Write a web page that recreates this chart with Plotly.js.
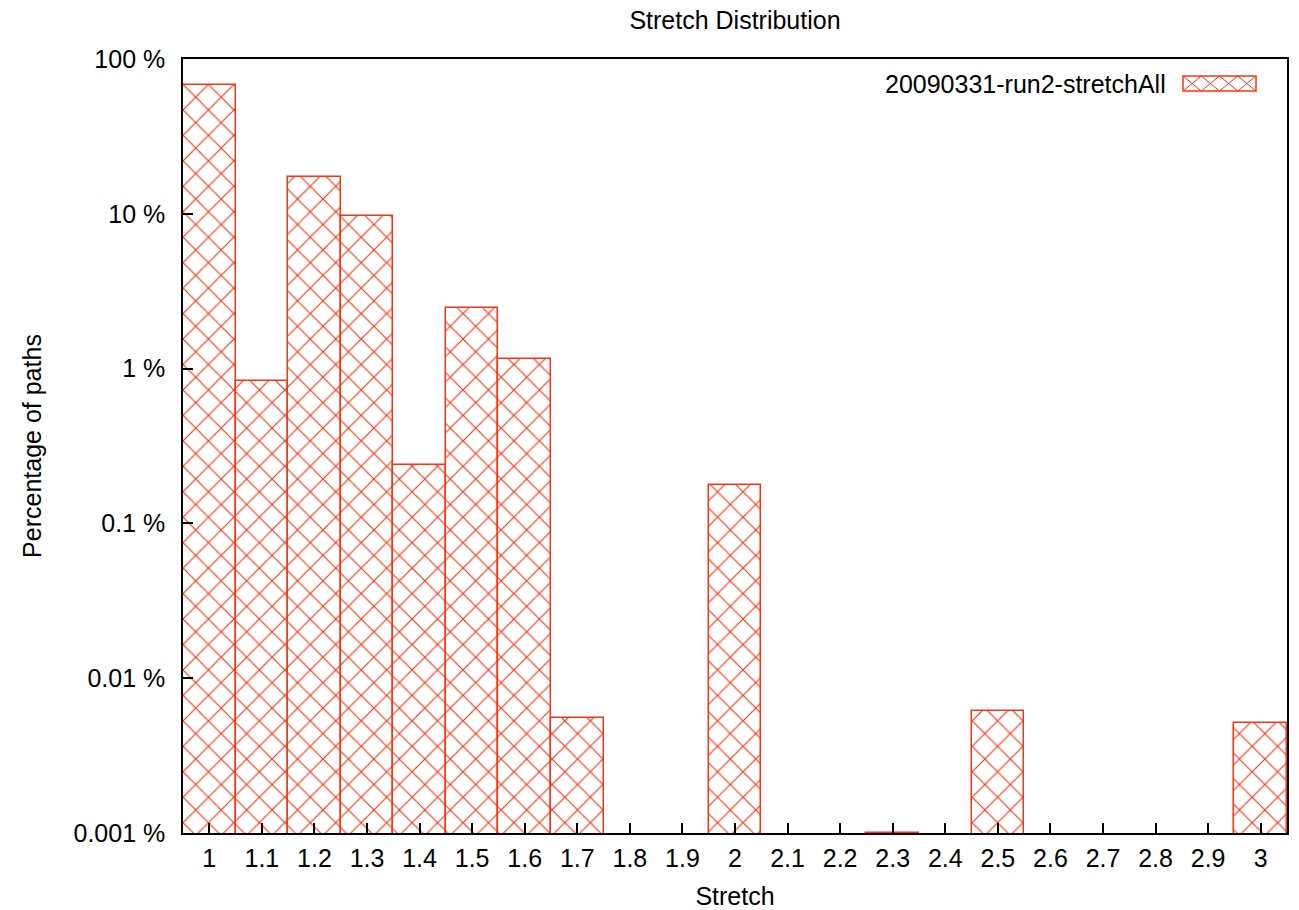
<!DOCTYPE html>
<html>
<head>
<meta charset="utf-8">
<script src="https://cdn.plot.ly/plotly-3.0.1.min.js"></script>
<style>
  html, body { margin: 0; padding: 0; background: #fff; }
  #chart { width: 1299px; height: 910px; }
</style>
</head>
<body>
<div id="chart"></div>
<script>
// ---- data (percent of paths per stretch bin) ----
const categories = ['1','1.1','1.2','1.3','1.4','1.5','1.6','1.7','1.8','1.9','2',
                    '2.1','2.2','2.3','2.4','2.5','2.6','2.7','2.8','2.9','3'];
const percentages = [68, 0.83, 17.3, 9.7, 0.238, 2.46, 1.15, 0.0055, null, null, 0.177,
                     null, null, 0.001003, null, 0.0061, null, null, null, null, 0.0051];
const seriesName = '20090331-run2-stretchAll';
const yTickVals = [0.001, 0.01, 0.1, 1, 10, 100];
const yTickText = ['0.001 %', '0.01 %', '0.1 %', '1 %', '10 %', '100 %'];

const RED = '#ff3311';
const FONT = '"Liberation Sans", Arial, Helvetica, sans-serif';
const W = 1299, H = 910;
const M = {l: 183, r: 12, t: 59, b: 77};
const PW = W - M.l - M.r, PH = H - M.t - M.b;
const px = x => (x - M.l) / PW;
const py = y => (M.t + PH - y) / PH;

const trace = {
  type: 'bar',
  x: categories,
  y: percentages,
  name: seriesName,
  showlegend: false,
  marker: {
    color: 'white',
    line: {color: RED, width: 1.5},
    pattern: {shape: 'x', size: 18, solidity: 0.12, fgcolor: RED, bgcolor: 'white', fillmode: 'replace'}
  },
  hoverinfo: 'x+y'
};

// legend key (text on the left, hatched box on the right, gnuplot style)
const keyX0 = 1183, keyX1 = 1256, keyY0 = 76, keyY1 = 91;
const nX = 4;
let hatch = '';
const tw = (keyX1 - keyX0) / nX;
for (let i = 0; i < nX; i++) {
  const a = keyX0 + i * tw, b = a + tw;
  hatch += `M${px(a)},${py(keyY0)}L${px(b)},${py(keyY1)}M${px(a)},${py(keyY1)}L${px(b)},${py(keyY0)}`;
}

const layout = {
  width: W, height: H,
  margin: M,
  paper_bgcolor: 'white', plot_bgcolor: 'white',
  font: {family: FONT, size: 25, color: '#000'},
  bargap: 0,
  showlegend: false,
  title: {text: 'Stretch Distribution', x: 0.5, xref: 'paper', xanchor: 'center',
          y: 1 - 20 / H, yref: 'container', yanchor: 'middle', font: {size: 25}},
  xaxis: {
    type: 'category',
    range: [-0.5, categories.length - 0.5],
    showline: true, linecolor: '#000', linewidth: 1.5, mirror: true,
    ticks: 'inside', ticklen: 10, tickwidth: 1.5, tickcolor: '#000',
    showgrid: false, zeroline: false,
    tickfont: {size: 25},
    ticklabelstandoff: 2,
    title: {text: 'Stretch', font: {size: 25}, standoff: 20}
  },
  yaxis: {
    type: 'log',
    range: [-3, 2],
    tickvals: yTickVals, ticktext: yTickText,
    showline: true, linecolor: '#000', linewidth: 1.5, mirror: true,
    ticks: 'inside', ticklen: 10, tickwidth: 1.5, tickcolor: '#000',
    showgrid: false, zeroline: false,
    tickfont: {size: 25},
    ticklabelstandoff: 11,
    title: {text: 'Percentage of paths', font: {size: 25}, standoff: 25}
  },
  annotations: [{
    text: seriesName, xref: 'paper', yref: 'paper',
    x: px(1168), y: py(83.5), xanchor: 'right', yanchor: 'middle',
    showarrow: false, font: {size: 25}
  }],
  shapes: [
    {type: 'rect', xref: 'paper', yref: 'paper', x0: px(keyX0), x1: px(keyX1), y0: py(keyY1), y1: py(keyY0),
     line: {color: RED, width: 1.5}, fillcolor: 'white'},
    {type: 'path', xref: 'paper', yref: 'paper', path: hatch, line: {color: RED, width: 1}}
  ]
};

Plotly.newPlot('chart', [trace], layout, {displayModeBar: false, responsive: false});
</script>
</body>
</html>
